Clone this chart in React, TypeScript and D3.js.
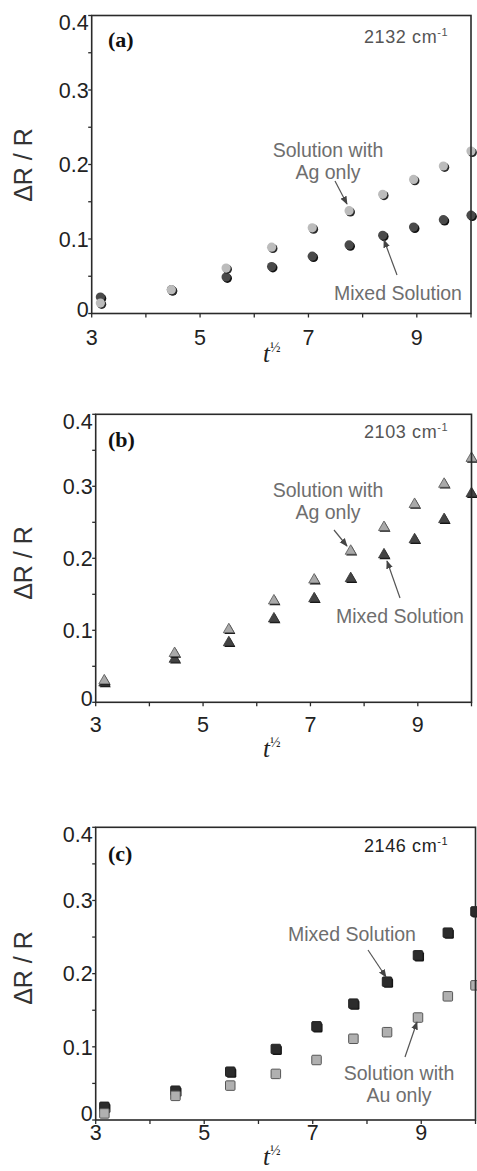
import React from "react";
import * as d3 from "d3";

// t^(1/2) sample positions
const tSqrt = [3.16, 4.47, 5.48, 6.32, 7.07, 7.75, 8.37, 8.94, 9.49, 10];

// Panel (a) 2132 cm-1 (circles)
const aAgOnly = [0.014, 0.032, 0.061, 0.089, 0.115, 0.138, 0.16, 0.18, 0.198, 0.218];
const aMixed = [0.022, 0.032, 0.049, 0.063, 0.077, 0.092, 0.105, 0.116, 0.126, 0.132];

// Panel (b) 2103 cm-1 (triangles)
const bAgOnly = [0.03, 0.068, 0.101, 0.141, 0.17, 0.21, 0.243, 0.275, 0.303, 0.339];
const bMixed = [0.027, 0.06, 0.083, 0.116, 0.144, 0.172, 0.205, 0.226, 0.254, 0.29];

// Panel (c) 2146 cm-1 (squares)
const cMixed = [0.018, 0.04, 0.066, 0.097, 0.128, 0.159, 0.189, 0.225, 0.256, 0.285];
const cAuOnly = [0.009, 0.033, 0.047, 0.063, 0.082, 0.111, 0.12, 0.14, 0.169, 0.184];

const yTickLabels = [0, 0.1, 0.2, 0.3, 0.4];
const xTickLabels = [3, 5, 7, 9];

const SANS = "'Liberation Sans', Arial, sans-serif";
const SERIF = "'Liberation Serif', 'Times New Roman', serif";

type Ann = { lines: string[]; x: number; y: number; from: [number, number]; to: [number, number] };

type PanelCfg = {
  tag: string;
  wave: string;
  waveColor: string;
  left: number; right: number; top: number; bottom: number;
  shape: "circle" | "triangle" | "square";
  light: number[];
  dark: number[];
  xLabelDy: number;
  zeroShift: number;
  tLabelY: number;
  yLabelCy: number;
  tagY: number;
  waveY: number;
  anns: Ann[];
};

const panels: PanelCfg[] = [
  {
    tag: "(a)", wave: "2132", waveColor: "#555",
    left: 91.7, right: 471, top: 15.5, bottom: 313.5,
    shape: "circle", light: aAgOnly, dark: aMixed,
    xLabelDy: 31.5, zeroShift: -4, tLabelY: 362, yLabelCy: 165, tagY: 47, waveY: 43,
    anns: [
      { lines: ["Solution with", "Ag only"], x: 328, y: 157, from: [335, 181], to: [347, 204] },
      { lines: ["Mixed Solution"], x: 398, y: 300, from: [397, 275], to: [384, 240] },
    ],
  },
  {
    tag: "(b)", wave: "2103", waveColor: "#555",
    left: 95.7, right: 471.5, top: 414.3, bottom: 702.3,
    shape: "triangle", light: bAgOnly, dark: bMixed,
    xLabelDy: 29.5, zeroShift: -4, tLabelY: 757, yLabelCy: 563, tagY: 447, waveY: 438,
    anns: [
      { lines: ["Solution with", "Ag only"], x: 328, y: 497, from: [334, 530], to: [347, 546] },
      { lines: ["Mixed Solution"], x: 400, y: 623, from: [400, 598], to: [387, 561] },
    ],
  },
  {
    tag: "(c)", wave: "2146", waveColor: "#222",
    left: 95.7, right: 475.5, top: 827.3, bottom: 1120,
    shape: "square", light: cAuOnly, dark: cMixed,
    xLabelDy: 19.5, zeroShift: -7, tLabelY: 1165, yLabelCy: 968, tagY: 861, waveY: 852,
    anns: [
      { lines: ["Mixed Solution"], x: 352, y: 941, from: [368, 950], to: [386, 977] },
      { lines: ["Solution with", "Au only"], x: 399, y: 1080, from: [405, 1057], to: [417, 1022] },
    ],
  },
];

function Marker({ shape, cx, cy, light }: { shape: string; cx: number; cy: number; light: boolean }) {
  const fill = light ? "#bcbcbc" : "#4a4a4a";
  const shadow = light ? "#2a2a2a" : "#111";
  if (shape === "circle") {
    const r = 4.6;
    return (
      <g>
        <circle cx={cx + 1.3} cy={cy + 1.3} r={r} fill={shadow} />
        <circle cx={cx} cy={cy} r={r} fill={fill} />
      </g>
    );
  }
  if (shape === "triangle") {
    const s = 11;
    const h = s * 0.866;
    const pts = (dx: number, dy: number) =>
      `${cx + dx},${cy - (2 * h) / 3 + dy} ${cx + s / 2 + dx},${cy + h / 3 + dy} ${cx - s / 2 + dx},${cy + h / 3 + dy}`;
    const tf = light ? "#a9a9a9" : "#444";
    return (
      <g>
        <polygon points={pts(1, 1.3)} fill="#111" />
        <polygon points={pts(0, 0)} fill={tf} stroke={light ? "#555" : "#333"} strokeWidth={0.8} />
      </g>
    );
  }
  const s = 9.5;
  const sf = light ? "#b0b0b0" : "#2c2c2c";
  return (
    <g>
      {!light && <rect x={cx - s / 2 + 1.3} y={cy - s / 2 + 1.3} width={s} height={s} fill="#111" rx={1.5} />}
      <rect x={cx - s / 2} y={cy - s / 2} width={s} height={s} fill={sf} stroke={light ? "#555" : "#222"} strokeWidth={1} rx={1} />
    </g>
  );
}

function Panel({ p, idx }: { p: PanelCfg; idx: number }) {
  const x = d3.scaleLinear().domain([3, 10]).range([p.left, p.right]);
  const y = d3.scaleLinear().domain([0, 0.4]).range([p.bottom, p.top]);
  const yMinor = d3.range(0, 0.4001, 0.05);
  const xMinor = d3.range(3, 10.001, 1);
  const markId = `arr${idx}`;
  return (
    <g>
      <defs>
        <marker id={markId} viewBox="0 0 10 10" refX="9" refY="5" markerWidth="7" markerHeight="7" orient="auto">
          <path d="M0,1 L10,5 L0,9 z" fill="#444" />
        </marker>
      </defs>
      {tSqrt.map((t, i) => (
        <Marker key={"d" + i} shape={p.shape} cx={x(t)} cy={y(p.dark[i])} light={false} />
      ))}
      {tSqrt.map((t, i) => (
        <Marker key={"l" + i} shape={p.shape} cx={x(t)} cy={y(p.light[i])} light={true} />
      ))}
      <rect x={p.left} y={p.top} width={p.right - p.left} height={p.bottom - p.top} fill="none" stroke="#2a2a2a" strokeWidth={1.6} />
      {yMinor.map((v, i) => (
        <line key={"yt" + i} x1={p.left - 3.5} x2={p.left} y1={y(v)} y2={y(v)} stroke="#2a2a2a" strokeWidth={1.3} />
      ))}
      {xMinor.map((v, i) => (
        <line key={"xt" + i} x1={x(v)} x2={x(v)} y1={p.bottom} y2={p.bottom + 4} stroke="#2a2a2a" strokeWidth={1.3} />
      ))}
      {yTickLabels.map((v, i) => (
        <text key={"yl" + i} x={p.left - 3} y={y(v) + (v === 0.4 ? 7 : v === 0 ? p.zeroShift : 0)} dy="0.36em" textAnchor="end"
          fontFamily={SANS} fontSize={21.5} fill="#222">{v === 0 ? "0" : d3.format(".1f")(v)}</text>
      ))}
      {xTickLabels.map((v, i) => (
        <text key={"xl" + i} x={x(v)} y={p.bottom + p.xLabelDy} textAnchor="middle" fontFamily={SANS} fontSize={21.5} fill="#222">{v}</text>
      ))}
      <text transform={`translate(32,${p.yLabelCy}) rotate(-90)`} textAnchor="middle" fontFamily={SANS} fontSize={25} fill="#333">
        ΔR / R
      </text>
      <text x={263} y={p.tLabelY} fontFamily={SERIF} fontStyle="italic" fontSize={25} fill="#222">
        t<tspan fontSize={14} dy={-10} fontStyle="normal">½</tspan>
      </text>
      <text x={108} y={p.tagY} fontFamily={SERIF} fontWeight="bold" fontSize={22} fill="#111">{p.tag}</text>
      <text x={364} y={p.waveY} fontFamily={SANS} fontSize={18} fill={p.waveColor} letterSpacing={0.6}>
        {p.wave} cm<tspan fontSize={11} dy={-7}>-1</tspan>
      </text>
      {p.anns.map((a, i) => (
        <g key={"a" + i}>
          {a.lines.map((ln, j) => (
            <text key={j} x={a.x} y={a.y + j * 22} textAnchor="middle" fontFamily={SANS} fontSize={19.5} fill="#6e6e6e">{ln}</text>
          ))}
          <line x1={a.from[0]} y1={a.from[1]} x2={a.to[0]} y2={a.to[1]} stroke="#555" strokeWidth={1.2} markerEnd={`url(#${markId})`} />
        </g>
      ))}
    </g>
  );
}

export default function App() {
  return (
    <svg width={477} height={1171} style={{ position: "absolute", left: 0, top: 0, background: "#fff" }}>
      <rect width={477} height={1171} fill="#fff" />
      {panels.map((p, i) => (
        <Panel key={i} p={p} idx={i} />
      ))}
    </svg>
  );
}
